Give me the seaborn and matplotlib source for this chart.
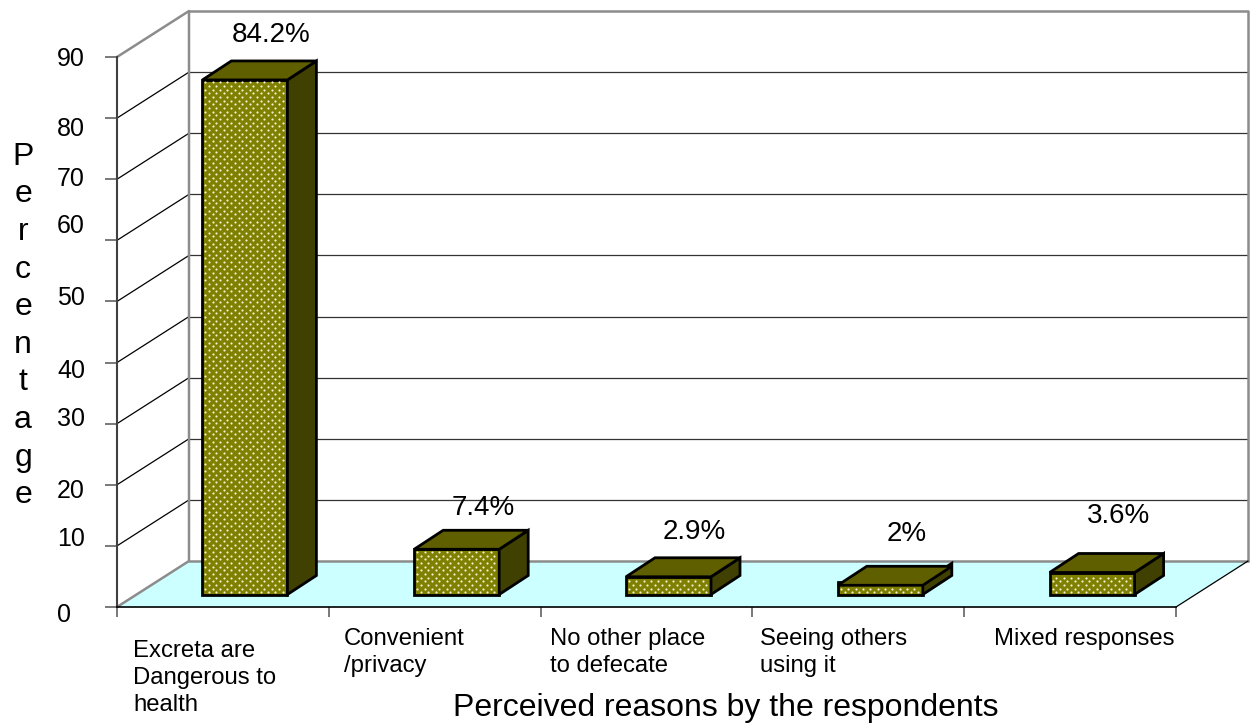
import numpy as np
import pandas as pd
import matplotlib
matplotlib.use("Agg")
import matplotlib.pyplot as plt
from matplotlib.patches import Polygon
from matplotlib.transforms import ScaledTranslation
import seaborn as sns

# Survey results
reasons = ["Excreta are\nDangerous to\nhealth", "Convenient\n/privacy", "No other place\nto defecate",
           "Seeing others\nusing it", "Mixed responses"]
percentages = [84.2, 7.4, 2.9, 2, 3.6]
value_labels = ["84.2%", "7.4%", "2.9%", "2%", "3.6%"]
y_ticks = [0, 10, 20, 30, 40, 50, 60, 70, 80, 90]
y_title = "Percentage"
x_title = "Perceived reasons by the respondents"

OLIVE, OLIVE_TOP, OLIVE_SIDE = "#808000", "#5F5F00", "#404000"
FLOOR = "#CCFFFF"
WALL_GREY = "#8C8C8C"
W, H = 1251, 723

sns.set_theme(style="white")
plt.rcParams["font.family"] = ["Liberation Sans", "DejaVu Sans"]

fig = plt.figure(figsize=(W / 100, H / 100), dpi=100)
ax = fig.add_axes([117 / W, 1 - 607 / H, (1176 - 117) / W, 550 / H])

df = pd.DataFrame({"reason": reasons, "pct": percentages})
px_x = (1176 - 117) / 5          # pixels per category
px_y = 550 / 90                  # pixels per percentage point
wall_dx, wall_dy = 72 / px_x, 46 / px_y
bar_dx, bar_dy = 29 / px_x, 19 / px_y
bar_base = 12.5 / px_y
bar_w = 85 / px_x
shift = 22 / px_x                # bars sit slightly behind the front plane, to the right

sns.barplot(data=df, x="reason", y="pct", ax=ax, color=OLIVE, saturation=1, width=bar_w,
            bottom=bar_base, edgecolor="black", linewidth=2.0, zorder=5)
x0, x1 = -0.5 - shift, 4.5 - shift
ax.set_xlim(x0, x1)
ax.set_ylim(0, 90)


def poly(pts, **kw):
    kw.setdefault("clip_on", False)
    ax.add_patch(Polygon(pts, closed=True, **kw))


# Floor and walls of the box
poly([(x0, 0), (x1, 0), (x1 + wall_dx, wall_dy), (x0 + wall_dx, wall_dy)], fc=FLOOR, ec="none", zorder=1)
for t in y_ticks[1:-1]:
    ax.plot([x0, x0 + wall_dx], [t, t + wall_dy], color="black", lw=0.9, clip_on=False, zorder=2)
    ax.plot([x0 + wall_dx, x1 + wall_dx], [t + wall_dy] * 2, color="#333333", lw=0.9, clip_on=False, zorder=2)
ax.plot([x0, x0 + wall_dx, x0 + wall_dx, x0], [90, 90 + wall_dy, wall_dy, 0],
        color=WALL_GREY, lw=1.8, clip_on=False, zorder=3)
ax.plot([x0 + wall_dx, x1 + wall_dx, x1 + wall_dx], [90 + wall_dy, 90 + wall_dy, wall_dy],
        color=WALL_GREY, lw=1.8, clip_on=False, zorder=3)
ax.plot([x0 + wall_dx, x1 + wall_dx], [wall_dy, wall_dy], color=WALL_GREY, lw=1.8, clip_on=False, zorder=3)
ax.plot([x1, x1 + wall_dx], [0, wall_dy], color="black", lw=0.9, clip_on=False, zorder=3)

# Top and side faces of each bar, plus the dotted fill of the front face.
# The shallowest bar has its top face sunk a little into the front face.
cap_drop = [0, 0, 0, 3 / px_y, 0]
for bar, val, drop in zip(ax.patches, percentages, cap_drop):
    l, r = bar.get_x(), bar.get_x() + bar.get_width()
    b, t = bar_base, bar_base + val
    poly([(r, b), (r + bar_dx, b + bar_dy), (r + bar_dx, t + bar_dy), (r, t)],
         fc=OLIVE_SIDE, ec="black", lw=2.0, joinstyle="miter", zorder=6)
    c = t - drop
    poly([(l, c), (r, c), (r + bar_dx, c + bar_dy), (l + bar_dx, c + bar_dy)],
         fc=OLIVE_TOP, ec="black", lw=2.0, joinstyle="miter", zorder=6)
    rows = np.arange(b + 2.2 / px_y, c - 1.5 / px_y, 3.67 / px_y)
    for k, ry in enumerate(rows):
        cols = np.arange(l + (3 if k % 2 else 6.7) / px_x, r - 1.5 / px_x, 7.35 / px_x)
        ax.scatter(cols, [ry] * len(cols), s=2.4, color="#F2F2D8", linewidths=0, zorder=7, clip_on=False)

# Value labels
label_xy = [(271, 35), (483, 508), (694, 532), (907, 534), (1119, 516)]
for (px, py), lab in zip(label_xy, value_labels):
    fig.text(px / W, 1 - py / H, lab, ha="center", va="center", fontsize=20, color="black")

# Axes decoration
sns.despine(ax=ax, top=True, right=True)
ax.spines["left"].set_color("#404040")
ax.spines["left"].set_linewidth(1.5)
ax.spines["bottom"].set_color("black")
ax.spines["bottom"].set_linewidth(1.2)
ax.spines["left"].set_zorder(4)
ax.spines["bottom"].set_zorder(4)
ax.set_yticks(y_ticks)
ax.tick_params(axis="y", left=True, length=8.6, width=1.1, color="#555555", labelsize=18, labelcolor="black",
               pad=34.6)
ax.set_xticks(x0 + np.arange(6))
ax.set_xticklabels([])
ax.tick_params(axis="x", bottom=True, length=7.5, width=1.1, color="#555555")
ax.set_xlabel("")
ax.set_ylabel("")

# Tick labels are left-aligned in one column and placed unevenly along the axis
tick_label_y = [613, 536, 488, 416, 368, 296, 224, 177, 127, 57]
for lab, tick, ypx in zip(ax.get_yticklabels(), y_ticks, tick_label_y):
    lab.set_horizontalalignment("left")
    lift = (607 - tick * px_y - ypx) / 100
    lab.set_transform(lab.get_transform() + ScaledTranslation(0, lift, fig.dpi_scale_trans))

cat_xy = [(133, 640), (344, 628), (550, 628), (760, 628), (994, 628)]
for (px, py), lab in zip(cat_xy, reasons):
    fig.text(px / W, 1 - py / H, lab, ha="left", va="top", fontsize=17.2, linespacing=1.29, color="black")

fig.text(726 / W, 1 - 708 / H, x_title, ha="center", va="center", fontsize=23, color="black")
fig.text(23 / W, 1 - 326 / H, "\n".join(y_title), ha="center", va="center", fontsize=23, linespacing=1.33,
         color="black")

fig.savefig("out.png", dpi=100)
